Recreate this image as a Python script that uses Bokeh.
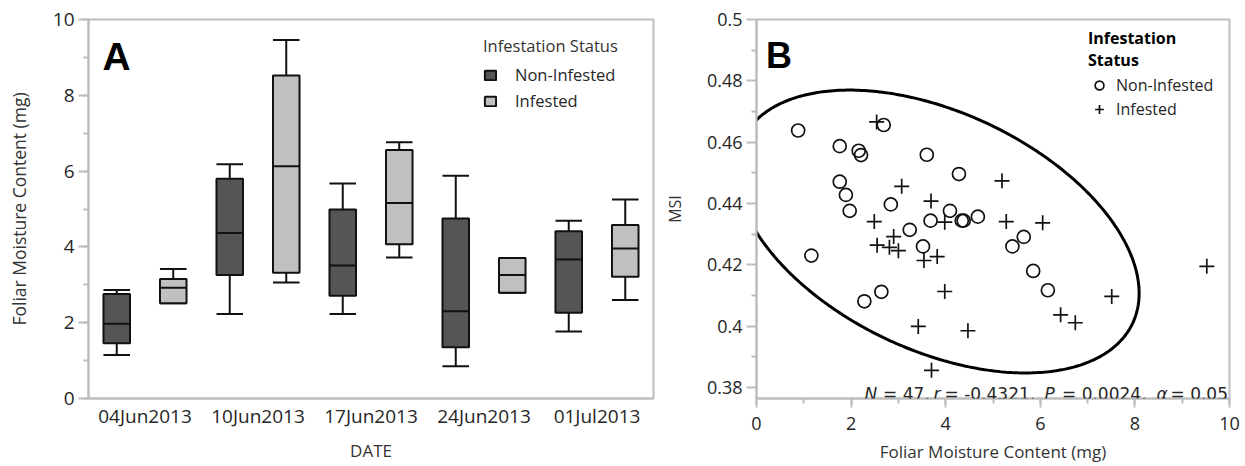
import numpy as np
from bokeh.plotting import figure
from bokeh.models import (ColumnDataSource, FactorRange, Range1d, FixedTicker,
                          SingleIntervalTicker, Legend, LegendItem, Label)
from bokeh.transform import dodge
from bokeh.layouts import row
from bokeh.embed import file_html
from bokeh.resources import INLINE

# ---------------- data: panel A (box summaries, mg) ----------------
dates = ["04Jun2013", "10Jun2013", "17Jun2013", "24Jun2013", "01Jul2013"]

non_hi = [2.86, 6.18, 5.67, 5.88, 4.69]
non_q3 = [2.76, 5.80, 4.99, 4.75, 4.41]
non_med = [1.97, 4.37, 3.51, 2.30, 3.67]
non_q1 = [1.46, 3.26, 2.71, 1.35, 2.26]
non_lo = [1.15, 2.23, 2.23, 0.85, 1.77]

inf_hi = [3.42, 9.46, 6.76, 3.71, 5.25]
inf_q3 = [3.15, 8.52, 6.56, 3.71, 4.58]
inf_med = [2.92, 6.13, 5.16, 3.26, 3.96]
inf_q1 = [2.51, 3.32, 4.07, 2.79, 3.21]
inf_lo = [2.51, 3.06, 3.72, 2.79, 2.60]

# ---------------- data: panel B (foliar moisture vs MSI) ----------------
non_fmc = [0.88, 1.16, 1.76, 1.76, 1.89, 1.97, 2.16, 2.21, 2.28, 2.64, 2.69, 2.84,
           3.24, 3.52, 3.60, 3.68, 4.09, 4.28, 4.34, 4.38, 4.68, 5.41, 5.65, 5.85, 6.16]
non_msi = [0.4638, 0.4230, 0.4587, 0.4471, 0.4428, 0.4376, 0.4572, 0.4558, 0.4081,
           0.4112, 0.4656, 0.4397, 0.4314, 0.4260, 0.4559, 0.4344, 0.4376, 0.4496,
           0.4344, 0.4344, 0.4357, 0.4260, 0.4291, 0.4180, 0.4117]
inf_fmc = [2.54, 3.07, 3.69, 5.19, 2.49, 3.98, 5.28, 6.05, 2.55, 2.90, 2.81, 3.00,
           3.54, 3.82, 3.98, 3.42, 4.47, 3.70, 6.43, 6.74, 7.51, 9.52]
inf_msi = [0.4666, 0.4456, 0.4408, 0.4474, 0.4341, 0.4339, 0.4341, 0.4337, 0.4264,
           0.4292, 0.4257, 0.4246, 0.4214, 0.4227, 0.4113, 0.3999, 0.3985, 0.3856,
           0.4037, 0.4011, 0.4097, 0.4195]

stat_r = "-0.4321"
stat_p = "0.0024"
stat_alpha = "0.05"

msi_ticks = [0.38, 0.40, 0.42, 0.44, 0.46, 0.48, 0.50]
msi_tick_labels = ["0.38", "0.4", "0.42", "0.44", "0.46", "0.48", "0.5"]
msi_minor = [0.37, 0.39, 0.41, 0.43, 0.45, 0.47, 0.49]

# ---------------- styling ----------------
FONT = "Open Sans"
STAT_FONT = "DejaVu Sans"
FRAME = "#bdbdbd"
TEXT = "#262626"
DARK = "#555555"
LIGHT = "#c0c0c0"
INK = "#111111"


def style_axis(ax, tick_out=10, minor_out=5, label_standoff=4, title_standoff=10,
               label_size="19px", title_size="17px"):
    ax.axis_line_color = FRAME
    ax.axis_line_width = 2
    ax.major_tick_line_color = FRAME
    ax.minor_tick_line_color = FRAME
    ax.major_tick_line_width = 2
    ax.minor_tick_line_width = 2
    ax.major_tick_in = 0
    ax.minor_tick_in = 0
    ax.major_tick_out = tick_out
    ax.minor_tick_out = minor_out
    ax.major_label_text_font = FONT
    ax.major_label_text_font_size = label_size
    ax.major_label_text_color = TEXT
    ax.major_label_standoff = label_standoff
    ax.axis_label_text_font = FONT
    ax.axis_label_text_font_style = "normal"
    ax.axis_label_text_font_size = title_size
    ax.axis_label_text_color = "#333333"
    ax.axis_label_standoff = title_standoff


def base_style(p):
    p.xgrid.visible = False
    p.ygrid.visible = False
    p.outline_line_color = FRAME
    p.outline_line_width = 2
    p.background_fill_color = "white"
    p.border_fill_color = "white"


# ================= Panel A: box plots by date =================
pA = figure(width=660, height=466, x_range=FactorRange(*dates), y_range=Range1d(0, 10),
            output_backend="svg", toolbar_location=None,
            min_border_left=88, min_border_right=7, min_border_top=19, min_border_bottom=68)
base_style(pA)

box_w = 0.235
half = box_w / 2


def draw_boxes(offset, hi, q3, med, q1, lo, color):
    src = ColumnDataSource(dict(date=dates, hi=hi, q3=q3, med=med, q1=q1, lo=lo))
    xr = pA.x_range
    line = dict(line_color=INK, line_width=2, source=src)
    # whiskers
    pA.segment(x0=dodge("date", offset, range=xr), y0="q3",
               x1=dodge("date", offset, range=xr), y1="hi", **line)
    pA.segment(x0=dodge("date", offset, range=xr), y0="q1",
               x1=dodge("date", offset, range=xr), y1="lo", **line)
    # caps
    pA.segment(x0=dodge("date", offset - half, range=xr), y0="hi",
               x1=dodge("date", offset + half, range=xr), y1="hi", **line)
    pA.segment(x0=dodge("date", offset - half, range=xr), y0="lo",
               x1=dodge("date", offset + half, range=xr), y1="lo", **line)
    # interquartile box
    box = pA.vbar(x=dodge("date", offset, range=xr), width=box_w, top="q3", bottom="q1",
                  fill_color=color, **line)
    # median
    pA.segment(x0=dodge("date", offset - half, range=xr), y0="med",
               x1=dodge("date", offset + half, range=xr), y1="med", **line)
    return box


box_non = draw_boxes(-0.25, non_hi, non_q3, non_med, non_q1, non_lo, DARK)
box_inf = draw_boxes(0.25, inf_hi, inf_q3, inf_med, inf_q1, inf_lo, LIGHT)

pA.yaxis.ticker = SingleIntervalTicker(interval=2, num_minor_ticks=2)
pA.yaxis.axis_label = "Foliar Moisture Content (mg)"
pA.xaxis.axis_label = "DATE"
style_axis(pA.yaxis[0], label_standoff=4, title_standoff=19, title_size="17.5px")
style_axis(pA.xaxis[0], tick_out=0, label_standoff=4, title_standoff=7)
pA.xaxis.major_tick_line_color = None

legA = Legend(items=[LegendItem(label="Non-Infested", renderers=[box_non]),
                     LegendItem(label="Infested", renderers=[box_inf])],
              location=(395, 286), title="Infestation Status")
legA.border_line_color = None
legA.background_fill_alpha = 0
legA.padding = 0
legA.margin = 0
legA.spacing = 3
legA.glyph_width = 14
legA.glyph_height = 12
legA.label_standoff = 18
legA.label_height = 20
legA.title_standoff = 6
legA.label_text_font = FONT
legA.label_text_font_size = "16.5px"
legA.label_text_color = TEXT
legA.title_text_font = FONT
legA.title_text_font_size = "16.5px"
legA.title_text_font_style = "normal"
legA.title_text_color = "#333333"
pA.add_layout(legA)

pA.add_layout(Label(x=0, y=10, x_offset=14, y_offset=-37.4, text="A",
                    text_font="Liberation Sans", text_font_style="bold",
                    text_font_size="39px", text_color="black",
                    text_baseline="alphabetic"))

# ================= Panel B: scatter with density ellipse =================
pB = figure(width=585, height=466, x_range=Range1d(0, 10), y_range=Range1d(0.3764, 0.5),
            output_backend="svg", toolbar_location=None,
            min_border_left=95, min_border_right=16, min_border_top=19, min_border_bottom=68)
base_style(pB)

# 95% bivariate normal density ellipse of all observations
all_x = np.array(non_fmc + inf_fmc)
all_y = np.array(non_msi + inf_msi)
center = np.array([all_x.mean(), all_y.mean()])
cov = np.cov(np.vstack([all_x, all_y]))
chi2_95 = -2.0 * np.log(0.05)
vals, vecs = np.linalg.eigh(cov)
t = np.linspace(0, 2 * np.pi, 400)
circle = np.vstack([np.cos(t), np.sin(t)])
ell = vecs @ (np.sqrt(vals * chi2_95)[:, None] * circle) + center[:, None]
pB.line(ell[0], ell[1], line_color="black", line_width=3)

src_non = ColumnDataSource(dict(x=non_fmc, y=non_msi))
src_inf = ColumnDataSource(dict(x=inf_fmc, y=inf_msi))
r_non = pB.scatter("x", "y", source=src_non, marker="circle", size=13,
                   fill_color=None, line_color=INK, line_width=1.7)
r_inf = pB.scatter("x", "y", source=src_inf, marker="cross", size=15,
                   line_color=INK, line_width=1.7)

pB.xaxis.ticker = SingleIntervalTicker(interval=2, num_minor_ticks=2)
pB.yaxis.ticker = FixedTicker(ticks=msi_ticks, minor_ticks=msi_minor)
pB.yaxis.major_label_overrides = dict(zip(msi_ticks, msi_tick_labels))
pB.xaxis.axis_label = "Foliar Moisture Content (mg)"
pB.yaxis.axis_label = "MSI"
style_axis(pB.xaxis[0], tick_out=9, label_standoff=9, title_standoff=7, label_size="18px")
style_axis(pB.yaxis[0], label_standoff=4, title_standoff=18, label_size="18px",
           title_size="16px")

legB = Legend(items=[LegendItem(label="Non-Infested", renderers=[r_non]),
                     LegendItem(label="Infested", renderers=[r_inf])],
              location=(332, 278), title="Infestation\nStatus")
legB.border_line_color = None
legB.background_fill_alpha = 0
legB.padding = 0
legB.margin = 0
legB.spacing = 2
legB.glyph_width = 22
legB.glyph_height = 22
legB.label_standoff = 6
legB.label_height = 20
legB.title_standoff = 3
legB.label_text_font = FONT
legB.label_text_font_size = "16px"
legB.label_text_color = TEXT
legB.title_text_font = FONT
legB.title_text_font_size = "16px"
legB.title_text_font_style = "bold"
legB.title_text_color = "black"
pB.add_layout(legB)

pB.add_layout(Label(x=0, y=0.5, x_offset=9.5, y_offset=-35.7, text="B",
                    text_font="Liberation Sans", text_font_style="bold",
                    text_font_size="36px", text_color="black",
                    text_baseline="alphabetic"))

# correlation summary along the bottom of the frame: italic symbols followed by
# upright "= value" clauses, each starting at its own horizontal offset
n_obs = len(all_x)
stat_pieces = [
    ("N", "italic", 108.0),
    ("= %d," % n_obs, "normal", 126.5),
    ("r", "italic", 177.0),
    ("= %s," % stat_r, "normal", 188.0),
    ("P", "italic", 288.0),
    ("= %s," % stat_p, "normal", 305.5),
    ("\u03b1", "italic", 400.0),
    ("= %s" % stat_alpha, "normal", 414.0),
]
for txt, style, off in stat_pieces:
    pB.add_layout(Label(x=0, y=0.38, x_offset=off, y_offset=-6.6, text=txt,
                        text_font=STAT_FONT, text_font_style=style, text_font_size="17px",
                        text_color=TEXT, text_baseline="alphabetic"))

layout = row(pA, pB)
open("out.html", "w").write(file_html(layout, INLINE))
